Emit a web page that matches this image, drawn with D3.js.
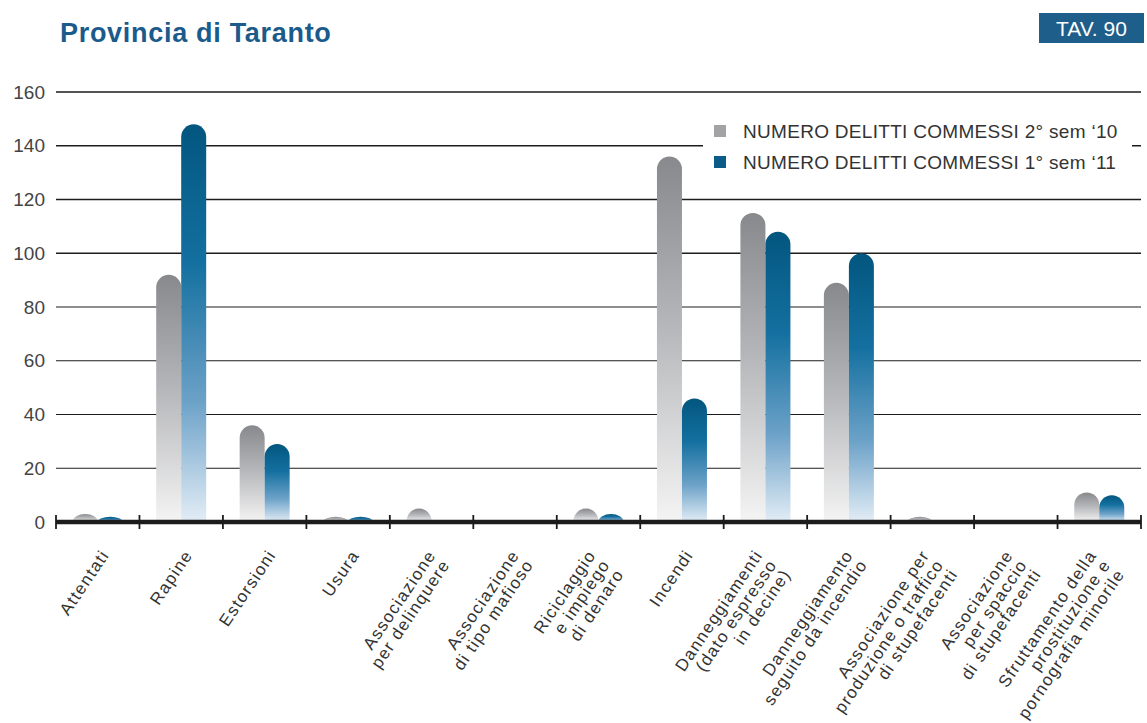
<!DOCTYPE html>
<html>
<head>
<meta charset="utf-8">
<script src="https://cdn.jsdelivr.net/npm/d3@7"></script>
<style>
  html, body { margin: 0; padding: 0; background: #ffffff; }
  svg { display: block; }
  text { font-family: "Liberation Sans", Arial, Helvetica, sans-serif; }
</style>
</head>
<body>
<svg id="chart" width="1147" height="723"></svg>
<script>
// ---------- DATA ----------
const categories = [
  "Attentati", "Rapine", "Estorsioni", "Usura",
  "Associazione per delinquere", "Associazione di tipo mafioso",
  "Riciclaggio e impiego di denaro", "Incendi",
  "Danneggiamenti (dato espresso in decine)",
  "Danneggiamento seguito da incendio",
  "Associazione per produzione o traffico di stupefacenti",
  "Associazione per spaccio di stupefacenti",
  "Sfruttamento della prostituzione e pornografia minorile"
];
const categoryLabelLines = [
  ["Attentati"], ["Rapine"], ["Estorsioni"], ["Usura"],
  ["Associazione", "per delinquere"],
  ["Associazione", "di tipo mafioso"],
  ["Riciclaggio", "e impiego", "di denaro"],
  ["Incendi"],
  ["Danneggiamenti", "(dato espresso", "in decine)"],
  ["Danneggiamento", "seguito da incendio"],
  ["Associazione per", "produzione o traffico", "di stupefacenti"],
  ["Associazione", "per spaccio", "di stupefacenti"],
  ["Sfruttamento della", "prostituzione e", "pornografia minorile"]
];
const seriesNames = ["NUMERO DELITTI COMMESSI 2° sem ‘10", "NUMERO DELITTI COMMESSI 1° sem ‘11"];
const values2sem10 = [3, 92, 36, 2, 5, 0, 5, 136, 115, 89, 2, 0, 11];
const values1sem11 = [2, 148, 29, 2, 0, 0, 3, 46, 108, 100, 0, 0, 10];
const yTickValues = [0, 20, 40, 60, 80, 100, 120, 140, 160];
const titleText = "Provincia di Taranto";
const tableText = "TAV. 90";

// ---------- SETUP ----------
const svg = d3.select("#chart");
const defs = svg.append("defs");

const plotLeft = 56, plotRight = 1141, plotTop = 92, plotBottom = 522;

const x = d3.scaleBand().domain(categories).range([plotLeft, plotRight]).padding(0);
const xSeries = d3.scaleBand().domain([0, 1]).range([-25, 25]).padding(0);
const y = d3.scaleLinear().domain([0, 160]).range([plotBottom, plotTop]);

// gradients
const gGray = defs.append("linearGradient").attr("id", "gradGray")
  .attr("x1", 0).attr("y1", 0).attr("x2", 0).attr("y2", 1);
[[0, "#88898c"], [0.45, "#b4b5b8"], [1, "#f4f4f4"]].forEach(([o, c]) =>
  gGray.append("stop").attr("offset", o).attr("stop-color", c));
const gBlue = defs.append("linearGradient").attr("id", "gradBlue")
  .attr("x1", 0).attr("y1", 0).attr("x2", 0).attr("y2", 1);
[[0, "#02567f"], [0.35, "#1470a0"], [0.7, "#6da2c8"], [1, "#e3edf6"]].forEach(([o, c]) =>
  gBlue.append("stop").attr("offset", o).attr("stop-color", c));
const fills = ["url(#gradGray)", "url(#gradBlue)"];
const legendColors = ["#a3a3a5", "#0b5c88"];

// ---------- TITLE ----------
svg.append("text").attr("x", 60).attr("y", 42)
  .attr("font-size", 27).attr("font-weight", "bold").attr("letter-spacing", 0.7)
  .attr("fill", "#1a5b8c").text(titleText);

svg.append("rect").attr("x", 1039).attr("y", 13).attr("width", 105).attr("height", 30)
  .attr("fill", "#1d5e8b");
svg.append("text").attr("x", 1091.5).attr("y", 36).attr("text-anchor", "middle")
  .attr("font-size", 21).attr("fill", "#ffffff").text(tableText);

// ---------- GRIDLINES ----------
svg.append("g").selectAll("line").data(yTickValues.filter(d => d > 0)).join("line")
  .attr("x1", plotLeft).attr("x2", plotRight)
  .attr("y1", d => y(d)).attr("y2", d => y(d))
  .attr("stroke", "#1c1c1c")
  .attr("stroke-width", d => d >= 100 ? 1.6 : 1);

// ---------- Y AXIS LABELS ----------
const yAxis = svg.append("g").attr("transform", "translate(45,0)")
  .call(d3.axisLeft(y).tickValues(yTickValues).tickSize(0).tickPadding(0));
yAxis.select(".domain").remove();
yAxis.selectAll("text").attr("font-size", 19).attr("fill", "#444")
  .attr("font-family", "Liberation Sans, Arial, sans-serif");

// ---------- LEGEND ----------
const legend = svg.append("g");
legend.append("rect").attr("x", 703).attr("y", 112).attr("width", 429).attr("height", 66)
  .attr("fill", "#ffffff");
seriesNames.forEach((name, i) => {
  const cy = 131 + i * 31;
  legend.append("rect").attr("x", 714).attr("y", cy - 6).attr("width", 12).attr("height", 12)
    .attr("fill", legendColors[i]);
  legend.append("text").attr("x", 743).attr("y", cy + 7)
    .attr("font-size", 19).attr("letter-spacing", 0.3).attr("fill", "#333").text(name);
});

// ---------- BARS ----------
function barPath(x0, w, v) {
  const top = y(v), bottom = y(0), h = bottom - top, r = w / 2;
  if (h <= 0) return null;
  if (h >= r) {
    return `M${x0},${bottom}V${top + r}A${r},${r} 0 0 1 ${x0 + w},${top + r}V${bottom}Z`;
  }
  return `M${x0},${bottom}A${r},${h} 0 0 1 ${x0 + w},${bottom}Z`;
}
const seriesValues = [values2sem10, values1sem11];
seriesValues.forEach((vals, s) => {
  svg.append("g").selectAll("path").data(categories).join("path")
    .attr("d", (c, i) => barPath(x(c) + x.bandwidth() / 2 + xSeries(s), xSeries.bandwidth(), vals[i]))
    .attr("fill", fills[s]);
});

// ---------- X AXIS ----------
svg.append("line").attr("x1", plotLeft).attr("x2", plotRight)
  .attr("y1", y(0)).attr("y2", y(0)).attr("stroke", "#1c1c1c").attr("stroke-width", 4.5);
const boundaries = categories.map(c => x(c)).concat([x(categories[categories.length - 1]) + x.bandwidth()]);
svg.append("g").selectAll("line").data(boundaries).join("line")
  .attr("x1", d => d).attr("x2", d => d)
  .attr("y1", y(0) - 7).attr("y2", y(0) + 7)
  .attr("stroke", "#1c1c1c").attr("stroke-width", 1.8);

// ---------- X LABELS ----------
const angle = 56, lh = 17;
const sinA = Math.sin(angle * Math.PI / 180);
categories.forEach((c, i) => {
  const lines = categoryLabelLines[i];
  const n = lines.length;
  const cx = x(c) + x.bandwidth() / 2;
  const tx = cx + 12 - ((n - 1) / 2) * lh * sinA;
  const ty = 555;
  const g = svg.append("g").attr("transform", `translate(${tx},${ty}) rotate(${-angle})`);
  g.selectAll("text").data(lines).join("text")
    .attr("x", 0).attr("y", (d, k) => k * lh)
    .attr("text-anchor", "end")
    .attr("font-size", 17).attr("letter-spacing", 1.3).attr("fill", "#333")
    .text(d => d);
});
</script>
</body>
</html>
